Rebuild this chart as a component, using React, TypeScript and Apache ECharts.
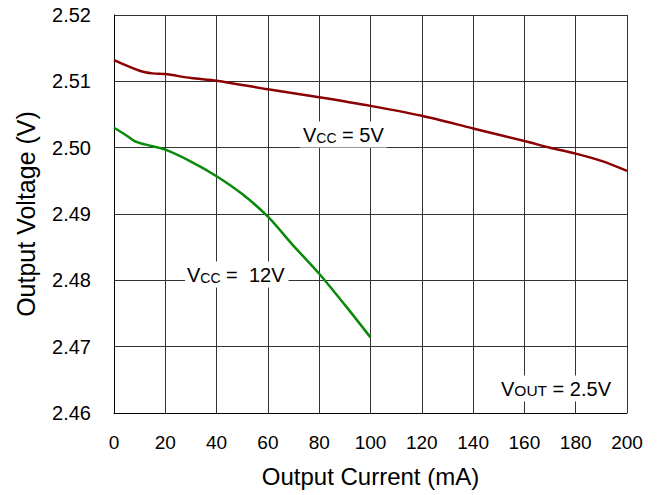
import React, { useEffect, useRef } from "react";
import * as echarts from "echarts";

const xTicks = [0, 20, 40, 60, 80, 100, 120, 140, 160, 180, 200];
const vcc5Current = [0, 10, 15, 20, 30, 40, 60, 80, 100, 120, 140, 160, 170, 180, 190, 200];
const vcc5Voltage = [2.5132, 2.5116, 2.5112, 2.5111, 2.5105, 2.5101, 2.5088, 2.5076, 2.5063, 2.5048, 2.5029, 2.501, 2.5, 2.4991, 2.498, 2.4965];
const vcc12Current = [0, 5, 8, 12, 20, 30, 40, 50, 60, 70, 80, 90, 100];
const vcc12Voltage = [2.503, 2.5018, 2.501, 2.5005, 2.4997, 2.4979, 2.4957, 2.493, 2.4896, 2.4852, 2.481, 2.4763, 2.4714];

const FONT = "'Liberation Sans', Arial, sans-serif";

export default function App() {
  const ref = useRef<HTMLDivElement>(null);
  useEffect(() => {
    if (!ref.current) return;
    const chart = echarts.init(ref.current, undefined, { renderer: "svg" });
    const rich = {
      v: { fontSize: 20, fontFamily: FONT, color: "#000", verticalAlign: "bottom" },
      s: { fontSize: 14, fontFamily: FONT, color: "#000", verticalAlign: "bottom" },
      o: { fontSize: 15.5, fontFamily: FONT, color: "#000", verticalAlign: "bottom" },
    };
    const label = (text: string, x: number, y: number, pad: number[]) => ({
      type: "text",
      x,
      y,
      z: 10,
      style: {
        text,
        rich,
        align: "left",
        verticalAlign: "middle",
        backgroundColor: "#fff",
        padding: pad,
      },
    });
    chart.setOption({
      animation: false,
      backgroundColor: "#fff",
      textStyle: { fontFamily: FONT },
      grid: { left: 114, right: 37, top: 15, bottom: 82, show: false },
      xAxis: {
        type: "value",
        min: 0,
        max: 200,
        interval: 20,
        name: "Output Current (mA)",
        nameLocation: "middle",
        nameGap: 51,
        nameTextStyle: { fontSize: 24, color: "#000", fontFamily: FONT },
        axisLine: { show: true, lineStyle: { color: "#000", width: 1 } },
        axisTick: { show: false },
        axisLabel: { fontSize: 19, color: "#000", margin: 20, fontFamily: FONT },
        splitLine: { show: true, lineStyle: { color: "#333", width: 1 } },
      },
      yAxis: {
        type: "value",
        min: 2.46,
        max: 2.52,
        interval: 0.01,
        name: "Output Voltage (V)",
        nameLocation: "middle",
        nameGap: 76,
        nameRotate: 90,
        nameTextStyle: { fontSize: 25, color: "#000", fontFamily: FONT },
        axisLine: { show: true, lineStyle: { color: "#000", width: 1 } },
        axisTick: { show: false },
        axisLabel: {
          fontSize: 20,
          color: "#000",
          margin: 23,
          fontFamily: FONT,
          formatter: (v: number) => v.toFixed(2),
        },
        splitLine: { show: true, lineStyle: { color: "#333", width: 1 } },
      },
      series: [
        {
          name: "VCC = 5V",
          type: "line",
          data: vcc5Current.map((x, i) => [x, vcc5Voltage[i]]),
          showSymbol: false,
          smooth: 0.3,
          lineStyle: { color: "#8b0000", width: 2.5 },
          z: 3,
        },
        {
          name: "VCC = 12V",
          type: "line",
          data: vcc12Current.map((x, i) => [x, vcc12Voltage[i]]),
          showSymbol: false,
          smooth: 0.3,
          lineStyle: { color: "#0a8a0a", width: 2.5 },
          z: 3,
        },
      ],
      graphic: [
        label("{v|V}{s|CC}{v| = 5V}", 300, 134.5, [3, 3, 3, 3]),
        label("{v|V}{s|CC}{v| =  12V}", 185, 274.5, [3, 4, 3, 2]),
        label("{v|V}{o|OUT}{v| = 2.5V}", 498, 388.5, [3, 4, 3, 3]),
      ],
    });
    return () => chart.dispose();
  }, []);
  return (
    <div
      ref={ref}
      style={{ position: "fixed", left: 0, top: 0, width: 664, height: 495 }}
    />
  );
}
